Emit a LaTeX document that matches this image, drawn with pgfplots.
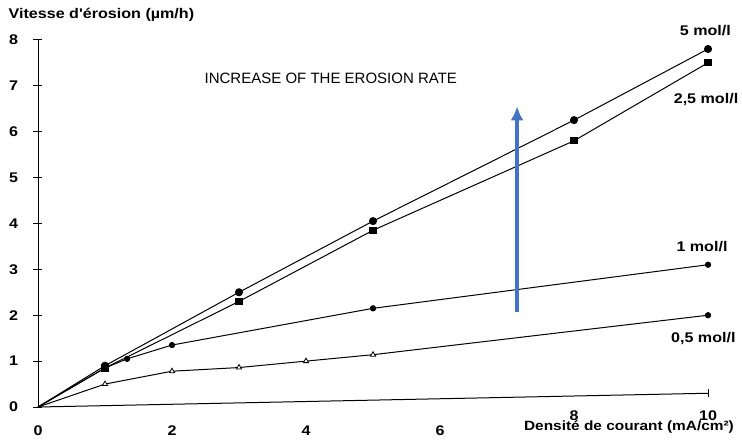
\documentclass[border=0pt]{standalone}
\usepackage{fontspec}
\setmainfont{Liberation Sans}
\newfontfamily\wide[FakeStretch=1.15]{Liberation Sans}
\usepackage{pgfplots}
\pgfplotsset{compat=1.18}
\usetikzlibrary{arrows.meta}
\definecolor{arrowblue}{RGB}{68,114,196}
\begin{document}
\begin{tikzpicture}
\begin{axis}[
  scale only axis, width=703.5pt, height=367.2pt,
  xmin=0, xmax=10.5, ymin=0, ymax=8,
  axis lines=left,
  x axis line style={draw=none},
  y axis line style={-, line width=0.9pt},
  clip=false,
  xtick={0,2,4,6}, ytick={0,1,...,8},
  extra x ticks={8,10},
  extra x tick style={xticklabel style={yshift=15pt}},
  tick align=center, major tick length=9pt,
  x tick style={draw=none},
  y tick style={line width=0.9pt, black},
  /pgf/number format/assume math mode=true,
  ticklabel style={font=\wide\fontsize{14}{15}\selectfont\bfseries},
  xticklabel style={yshift=-11pt},
  yticklabel style={xshift=-12pt},
  every axis plot/.append style={black, line width=1pt},
]
% 5 mol/l
\addplot[mark=*, mark size=3.5pt, mark indices={2,3,4,5,6}] coordinates {(0,0) (1,0.9) (3,2.5) (5,4.05) (8,6.25) (10,7.8)};
% 2,5 mol/l
\addplot[mark=square*, mark size=3.2pt, mark indices={2,3,4,5,6}] coordinates {(0,0) (1,0.85) (3,2.3) (5,3.85) (8,5.8) (10,7.5)};
% 1 mol/l
\addplot[mark=*, mark size=2.6pt, mark indices={2,3,4,5,6}] coordinates {(0,0) (1,0.85) (1.33,1.05) (2,1.35) (5,2.15) (10,3.1)};
% 0,5 mol/l
\addplot[mark=triangle*, mark options={fill=white, line width=0.8pt}, mark size=3pt, mark indices={2,3,4,5,6}] coordinates {(0,0) (1,0.5) (2,0.78) (3,0.86) (4,1.0) (5,1.14) (10,2.0)};
\addplot[only marks, mark=*, mark size=2.6pt] coordinates {(10,2.0)};
% lowest line
\addplot[mark=|, mark size=4pt, mark indices={2}] coordinates {(0,0) (10,0.3)};
% arrow
\addplot[draw=arrowblue, line width=3.5pt, -{Latex[length=14pt,width=13pt]}] coordinates {(7.15,2.07) (7.15,6.55)};

\begin{scope}[every node/.style={font=\wide\fontsize{14}{15}\selectfont\bfseries}]
\node at (axis cs:9.96,8.21) {5 mol/l};
\node at (axis cs:9.97,6.69) {2,5 mol/l};
\node at (axis cs:9.91,3.49) {1 mol/l};
\node at (axis cs:9.93,1.50) {0,5 mol/l};
\node[anchor=west] at (axis cs:-0.49,8.54) {Vitesse d'érosion (µm/h)};
\end{scope}
\node[font=\wide\fontsize{13.4}{15}\selectfont\bfseries] at (axis cs:8.82,-0.43) {Densité de courant (mA/cm²)};
\node[font=\fontsize{15}{16}\selectfont] at (axis cs:4.37,7.17) {INCREASE OF THE EROSION RATE};
\path (axis cs:-0.567,-0.784) rectangle (axis cs:10.507,8.867);
\end{axis}
\end{tikzpicture}
\end{document}
